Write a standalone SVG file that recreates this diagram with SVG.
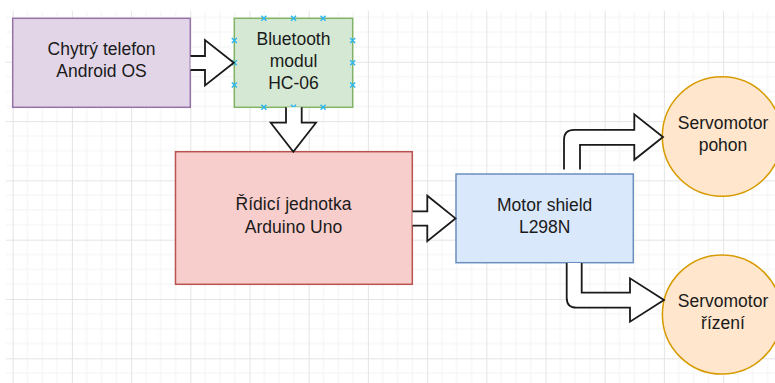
<svg xmlns="http://www.w3.org/2000/svg" width="775" height="383" viewBox="0 0 775 383">
  <defs>
    <pattern id="grid" patternUnits="userSpaceOnUse" x="12.7" y="2.5" width="59.2" height="59.3">
      <path d="M14.8,0V59.3M29.6,0V59.3M44.4,0V59.3M0,14.83H59.2M0,29.65H59.2M0,44.48H59.2" stroke="#f3f3f3" stroke-width="1" fill="none"/>
      <path d="M0.5,0V59.3M0,0.5H59.2" stroke="#e4e4e4" stroke-width="1" fill="none"/>
    </pattern>
    <path id="cx" d="M-2.5,-2.5L2.5,2.5M-2.5,2.5L2.5,-2.5"/>
  </defs>
  <style>
    .t { font-family: "Liberation Sans", Arial, sans-serif; font-size: 17.5px; fill: #1a1a1a; text-anchor: middle; }
    .box { stroke-width: 1.5; }
    .arr { fill: #ffffff; stroke: #1a1a1a; stroke-width: 1.8; stroke-linejoin: miter; }
    .cp { stroke: #29b6f2; stroke-width: 1.4; fill: none; }
  </style>
  <rect x="0" y="0" width="775" height="383" fill="#ffffff"/>
  <rect x="6" y="11" width="769" height="372" fill="url(#grid)"/>

  <g id="phone">
    <rect class="box" x="12.7" y="18.3" width="177.6" height="89" fill="#e1d5e7" stroke="#9673a6"/>
    <text class="t" x="101.5" y="55">Chytrý telefon</text>
    <text class="t" x="101.5" y="77.3">Android OS</text>
  </g>

  <g id="bluetooth">
    <rect class="box" x="234.3" y="18.3" width="118.4" height="89" fill="#d5e8d4" stroke="#82b366"/>
    <text class="t" x="293.5" y="45">Bluetooth</text>
    <text class="t" x="293.5" y="67.3">modul</text>
    <text class="t" x="293.5" y="89">HC-06</text>
    <g class="cp">
      <use href="#cx" x="263.9" y="18.3"/><use href="#cx" x="293.5" y="18.3"/><use href="#cx" x="323.1" y="18.3"/>
      <use href="#cx" x="263.9" y="107.3"/><use href="#cx" x="293.5" y="107.3"/><use href="#cx" x="323.1" y="107.3"/>
      <use href="#cx" x="234.3" y="40.5"/><use href="#cx" x="234.3" y="62.8"/><use href="#cx" x="234.3" y="85"/>
      <use href="#cx" x="352.7" y="40.5"/><use href="#cx" x="352.7" y="62.8"/><use href="#cx" x="352.7" y="85"/>
    </g>
  </g>

  <g id="arduino">
    <rect class="box" x="175.5" y="151.7" width="236.8" height="132.6" fill="#f8cecc" stroke="#b85450"/>
    <text class="t" x="293.5" y="210">Řídicí jednotka</text>
    <text class="t" x="293.5" y="232.7">Arduino Uno</text>
  </g>

  <g id="shield">
    <rect class="box" x="456" y="174" width="177.3" height="88.7" fill="#dae8fc" stroke="#6c8ebf"/>
    <text class="t" x="544.7" y="210.7">Motor shield</text>
    <text class="t" x="544.7" y="233.3">L298N</text>
  </g>

  <g id="servo-pohon">
    <circle class="box" cx="722" cy="136.5" r="59.7" fill="#ffe6cc" stroke="#d79b00"/>
    <text class="t" x="723" y="129.3">Servomotor</text>
    <text class="t" x="723" y="151">pohon</text>
  </g>

  <g id="servo-rizeni">
    <circle class="box" cx="722" cy="314.5" r="59.6" fill="#ffe6cc" stroke="#d79b00"/>
    <text class="t" x="723" y="307.3">Servomotor</text>
    <text class="t" x="723" y="329.3">řízení</text>
  </g>

  <g id="connectors">
    <path class="arr" d="M190.5,56 H205 V40 L233.8,62.8 L205,85.5 V70 H190.5"/>
    <path class="arr" d="M286,107.3 V122.7 H270.7 L293.3,151.7 L316,122.7 H301.7 V107.3"/>
    <path class="arr" d="M412.5,211.3 H427.3 V195.7 L455.5,218.4 L427.3,241.2 V225.7 H412.5"/>
    <path class="arr" d="M580,169.5 V144.8 H634.3 V159.8 L663,137 L634.3,114.3 V129.8 H574 Q564,129.8 564,139.8 V169.5"/>
    <path class="arr" d="M566.7,263 V297.7 Q566.7,307.7 576.7,307.7 H630 V321.7 L664,300 L630,278.3 V292.7 H581.7 V263"/>
  </g>
</svg>
